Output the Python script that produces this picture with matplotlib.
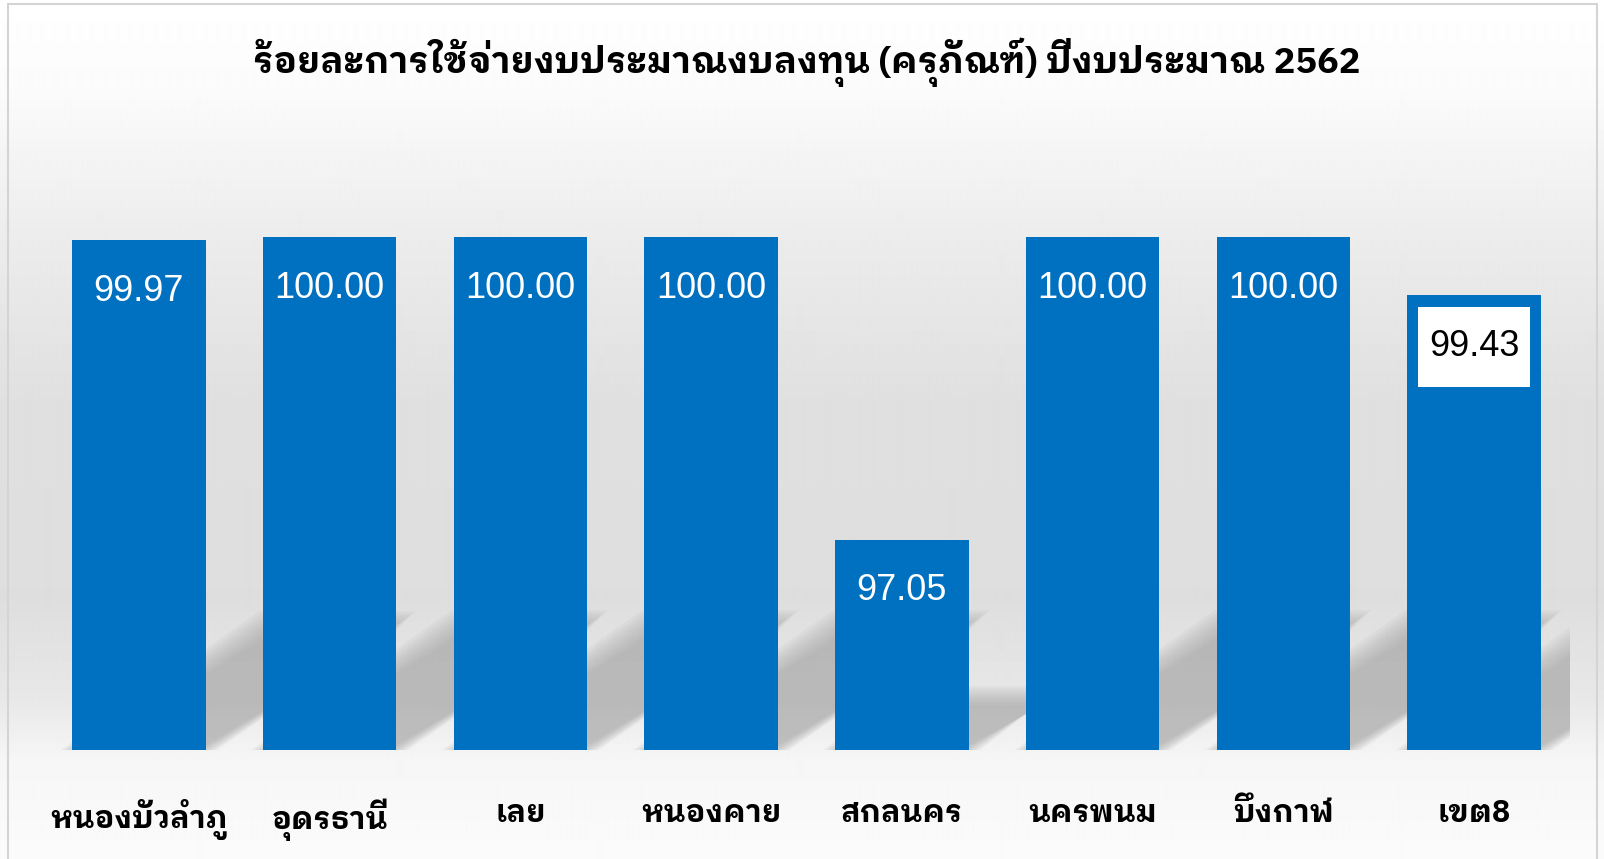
import numpy as np
import matplotlib
matplotlib.use("Agg")
import matplotlib.pyplot as plt
from matplotlib import font_manager as fm, ft2font
from matplotlib.patches import Polygon, Rectangle
from matplotlib.path import Path

# ข้อมูล
categories = ["หนองบัวลำภู", "อุดรธานี", "เลย", "หนองคาย", "สกลนคร", "นครพนม", "บึงกาฬ", "เขต8"]
values = [99.97, 100.00, 100.00, 100.00, 97.05, 100.00, 100.00, 99.43]
title = "ร้อยละการใช้จ่ายงบประมาณงบลงทุน (ครุภัณฑ์) ปีงบประมาณ 2562"
highlight = "เขต8"


def find_thai_font():
    # ищем шрифт с тайскими глифами
    best = None
    for f in fm.fontManager.ttflist:
        try:
            cmap = ft2font.FT2Font(f.fname).get_charmap()
        except Exception:
            continue
        if ord("ก") in cmap:
            if "Thai" in f.name and "Looped" in f.name:
                return f.name
            if best is None or "Thai" in f.name:
                best = f.name
    return best


def tall_box(x0, y0, width, height, mutation_size):
    # белая рамка: по вертикали отступ больше, чем по горизонтали
    px, py = 0.3 * mutation_size, 0.62 * mutation_size
    x1, y1 = x0 - px, y0 - py
    x2, y2 = x0 + width + px, y0 + height + py
    return Path([(x1, y1), (x2, y1), (x2, y2), (x1, y2), (x1, y1)], closed=True)


thai = find_thai_font()
fam = [thai, "DejaVu Sans"] if thai else ["DejaVu Sans"]
plt.rcParams["font.family"] = fam

W, H = 1604, 859
fig = plt.figure(figsize=(W / 100, H / 100), dpi=100)

# фон: вертикальный градиент
bg = fig.add_axes([0, 0, 1, 1], zorder=-10)
stops_y = [0, 90, 250, 400, 600, 700, 760, 859]
stops_g = [255, 251, 235, 224, 222, 232, 246, 251]
g = np.interp(np.arange(H), stops_y, stops_g) / 255.0
bg.imshow(np.repeat(g[:, None], 4, axis=1), cmap="gray", vmin=0, vmax=1,
          aspect="auto", extent=[0, 1, 0, 1], interpolation="bilinear")
bg.add_patch(Rectangle((8 / W, -0.01), (1597 - 8) / W, 1 - 4 / H + 0.01,
                       transform=bg.transAxes, fill=False, ec="#d4d4d4", lw=1.5))
bg.set_xlim(0, 1)
bg.set_ylim(0, 1)
bg.axis("off")

ax = fig.add_axes([43.5 / W, 109 / H, (1569.5 - 43.5) / W, 0.717])
ax.set_facecolor("none")
x = np.arange(len(categories))
bw = 0.7
ymin = 95
ky = 191 / 102.6  # пиксели: x-единица / y-единица

# тени (перспектива вверх-вправо), размытые слоями
for xi, v in zip(x, values):
    h = v - ymin
    dx, dy = 0.21 * h, 0.25 * h
    xl, xr = xi - bw / 2, xi + bw / 2
    for gr in np.linspace(0.06, -0.04, 9):
        gy = gr * ky
        poly = Polygon([(xl - gr, ymin), (xr + gr, ymin),
                        (xr + dx + gr, ymin + dy + gy), (xl + dx - gr, ymin + dy + gy)],
                       closed=True, fc="#9a9a9a", ec="none", alpha=0.085, zorder=1)
        ax.add_patch(poly)

bars = ax.bar(x, [v - ymin for v in values], bottom=ymin, width=bw,
              color="#0070C0", edgecolor="none", zorder=3)

for xi, v, c in zip(x, values, categories):
    if c == highlight:
        ax.annotate(f"{v:.2f}", (xi, v), xytext=(0, -37), textcoords="offset points",
                    ha="center", va="center", fontsize=26, color="black",
                    family=["Liberation Sans"], zorder=5,
                    bbox=dict(boxstyle=tall_box, fc="white", ec="none"))
    else:
        ax.annotate(f"{v:.2f}", (xi, v), xytext=(0, -37), textcoords="offset points",
                    ha="center", va="center", fontsize=26, color="white",
                    family=["Liberation Sans"], zorder=5)

ax.set_xlim(-0.5, len(categories) - 0.5)
ax.set_ylim(ymin, 101)
ax.set_xticks(x)
ax.set_xticklabels(categories, fontsize=22, fontweight="bold")
ax.tick_params(axis="x", length=0, pad=35)
ax.set_yticks([])
for s in ax.spines.values():
    s.set_visible(False)

fig.text(807 / W, 1 - 62 / H, title, ha="center", va="center",
         fontsize=26, fontweight="bold")

fig.savefig("out.png", dpi=100)
